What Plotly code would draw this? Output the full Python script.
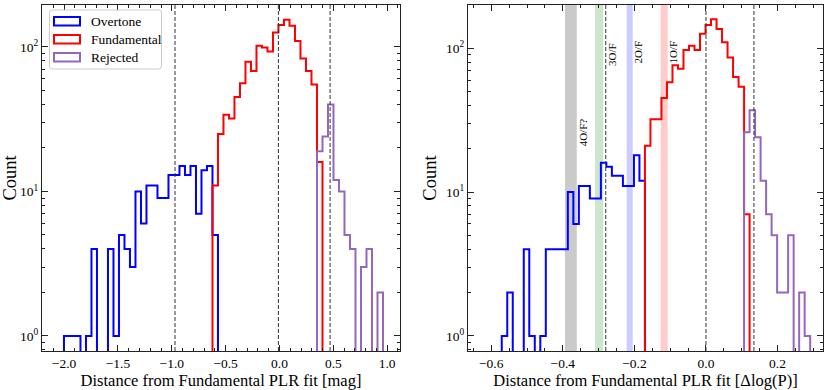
import plotly.graph_objects as go

# ---------------- data ----------------
# Left panel: histogram of distance in magnitude
LEFT_BIN_START = -2.001
LEFT_BIN_WIDTH = 0.05107
OVERTONE_L_FIRST_BIN = 0
OVERTONE_L = [1, 1, 1, 0, 1, 4, 0, 0, 4, 1, 5, 4, 3, 10, 6, 11, 11, 9, 9, 13, 13, 15, 13, 15, 7, 14, 15, 5]
FUND_L_FIRST_BIN = 27
FUND_L = [11, 25, 34, 32, 45, 56, 79, 68, 102, 99, 93, 126, 142, 154, 140, 110, 83, 68, 55, 16]
REJ_L_FIRST_BIN = 46
REJ_L = [19, 24, 40, 12, 10, 5, 4, 0, 3, 4, 0, 2]
LEFT_VLINES = [-0.97, -0.01, 0.47]

# Right panel: histogram of distance in log(P)
RIGHT_BIN_START = -0.5707
RIGHT_BIN_WIDTH = 0.01539
OVERTONE_R_FIRST_BIN = 0
OVERTONE_R = [1, 2, 0, 0, 4, 1, 0, 1, 4, 4, 4, 4, 10, 6, 11, 11, 9, 9, 16, 15, 13, 13, 11, 11, 18, 12]
FUND_R_FIRST_BIN = 26
FUND_R = [21, 32, 32, 45, 58, 76, 72, 97, 104, 97, 126, 145, 159, 136, 110, 86, 63, 54, 7]
REJ_R_FIRST_BIN = 44
REJ_R = [26, 37, 24, 12, 7, 5, 2, 2, 5, 0, 2, 1]
RIGHT_VLINES = [-0.28, 0.0, 0.134]

BAND_LO = [-0.394, -0.310, -0.2216, -0.1266]
BAND_HI = [-0.361, -0.287, -0.2048, -0.1070]
BAND_COLORS = ["rgba(128,128,128,0.42)", "rgba(0,128,0,0.2)", "rgba(0,0,255,0.2)", "rgba(255,0,0,0.2)"]
BAND_LABELS = ["4O/F?", "3O/F", "2O/F", "1O/F"]
BAND_LABEL_X = [-0.3436, -0.263, -0.189, -0.0913]
BAND_LABEL_LOGY = [1.415, 1.958, 1.972, 1.972]

SERIES_NAMES = ["Overtone", "Fundamental", "Rejected"]
SERIES_COLORS = ["#0000ff", "#ff0000", "#9467bd"]

X_TICKS_L = [-2.0, -1.5, -1.0, -0.5, 0.0, 0.5, 1.0]
X_TICKS_R = [-0.6, -0.4, -0.2, 0.0, 0.2]

FONT = "Liberation Serif"
W, H = 830, 390
FLOOR = 0.05


def fmt(v):
    s = f"{abs(v):.1f}"
    return ("\u2212" + s) if v < 0 else s


def step_xy(start, width, first, counts):
    n = len(counts)
    edges = [start + (first + i) * width for i in range(n + 1)]
    xs = [edges[0]] + edges[:n] + [edges[n]]
    ys = [FLOOR] + [c if c > 0 else FLOOR for c in counts] + [FLOOR]
    return xs, ys


def px(x):
    return x / W


def py(y):
    return 1 - y / H


fig = go.Figure()

left_sets = [(OVERTONE_L_FIRST_BIN, OVERTONE_L), (FUND_L_FIRST_BIN, FUND_L), (REJ_L_FIRST_BIN, REJ_L)]
right_sets = [(OVERTONE_R_FIRST_BIN, OVERTONE_R), (FUND_R_FIRST_BIN, FUND_R), (REJ_R_FIRST_BIN, REJ_R)]

for (first, counts), name, col in zip(left_sets, SERIES_NAMES, SERIES_COLORS):
    xs, ys = step_xy(LEFT_BIN_START, LEFT_BIN_WIDTH, first, counts)
    fig.add_trace(go.Scatter(x=xs, y=ys, mode="lines", line=dict(color=col, width=2, shape="hv"),
                             name=name, showlegend=False, xaxis="x", yaxis="y"))

for (first, counts), name, col in zip(right_sets, SERIES_NAMES, SERIES_COLORS):
    xs, ys = step_xy(RIGHT_BIN_START, RIGHT_BIN_WIDTH, first, counts)
    fig.add_trace(go.Scatter(x=xs, y=ys, mode="lines", line=dict(color=col, width=2, shape="hv"),
                             name=name, showlegend=False, xaxis="x2", yaxis="y2"))

shapes = []
for v in LEFT_VLINES:
    shapes.append(dict(type="line", xref="x", yref="y domain", x0=v, x1=v, y0=0, y1=1,
                       line=dict(color="#333", width=1, dash="4px,2px"), layer="above"))
for v in RIGHT_VLINES:
    shapes.append(dict(type="line", xref="x2", yref="y2 domain", x0=v, x1=v, y0=0, y1=1,
                       line=dict(color="#333", width=1, dash="4px,2px"), layer="above"))
for lo, hi, c in zip(BAND_LO, BAND_HI, BAND_COLORS):
    shapes.append(dict(type="rect", xref="x2", yref="y2 domain", x0=lo, x1=hi, y0=0, y1=1,
                       fillcolor=c, line=dict(width=0), layer="below"))

# legend (manual, to draw rectangle patches)
lx0, lx1, ly0, ly1, r = 49.5, 161.5, 10, 69, 3
path = (f"M {px(lx0 + r)},{py(ly0)} L {px(lx1 - r)},{py(ly0)} Q {px(lx1)},{py(ly0)} {px(lx1)},{py(ly0 + r)} "
        f"L {px(lx1)},{py(ly1 - r)} Q {px(lx1)},{py(ly1)} {px(lx1 - r)},{py(ly1)} "
        f"L {px(lx0 + r)},{py(ly1)} Q {px(lx0)},{py(ly1)} {px(lx0)},{py(ly1 - r)} "
        f"L {px(lx0)},{py(ly0 + r)} Q {px(lx0)},{py(ly0)} {px(lx0 + r)},{py(ly0)} Z")
shapes.append(dict(type="path", xref="paper", yref="paper", path=path,
                   fillcolor="rgba(255,255,255,0.85)", line=dict(color="#cccccc", width=1), layer="above"))
annotations = []
row_y = [21.3, 39.3, 57.3]
for name, col, ry in zip(SERIES_NAMES, SERIES_COLORS, row_y):
    shapes.append(dict(type="rect", xref="paper", yref="paper", x0=px(54), x1=px(80),
                       y0=py(ry - 4.3), y1=py(ry + 4.3), line=dict(color=col, width=2), layer="above"))
    annotations.append(dict(xref="paper", yref="paper", x=px(89), y=py(ry), text=name, showarrow=False,
                            xanchor="left", yanchor="middle", font=dict(family=FONT, size=13.5, color="black")))

for t, x, ly in zip(BAND_LABELS, BAND_LABEL_X, BAND_LABEL_LOGY):
    annotations.append(dict(xref="x2", yref="y2", x=x, y=ly, text=t, showarrow=False, textangle=-90,
                            xanchor="center", yanchor="middle", font=dict(family=FONT, size=11, color="black")))

axis_common = dict(showline=True, linecolor="#222", linewidth=1.2, mirror="allticks", ticks="inside",
                   ticklen=6, tickwidth=1, tickcolor="#222", showgrid=False, zeroline=False,
                   tickfont=dict(family=FONT, size=13.5, color="black"), automargin=False)

ydom = [1 - 351 / H, 1 - 5 / H]
ytickvals = [1, 10, 100]
ytext = ["10<sup>0</sup>", "10<sup>1</sup>", "10<sup>2</sup>"]
yminor = [0.8, 0.9] + list(range(2, 10)) + list(range(20, 100, 10)) + [200]

fig.update_layout(
    width=W, height=H, margin=dict(l=0, r=0, t=0, b=0),
    paper_bgcolor="white", plot_bgcolor="rgba(0,0,0,0)",
    font=dict(family=FONT, color="black"),
    showlegend=False,
    shapes=shapes, annotations=annotations,
    xaxis=dict(axis_common, domain=[42 / W, 400 / W], range=[-2.205, 1.119], anchor="y",
               tickmode="array", tickvals=X_TICKS_L, ticktext=[fmt(v) for v in X_TICKS_L],
               minor=dict(ticks="inside", ticklen=3, tickcolor="#222", dtick=0.1, tick0=0),
               title=dict(text="Distance from Fundamental PLR fit [mag]", font=dict(family=FONT, size=16.5), standoff=3)),
    xaxis2=dict(axis_common, domain=[468 / W, 823 / W], range=[-0.665, 0.327], anchor="y2",
                tickmode="array", tickvals=X_TICKS_R, ticktext=[fmt(v) for v in X_TICKS_R],
                minor=dict(ticks="inside", ticklen=3, tickcolor="#222", dtick=0.05, tick0=0),
                title=dict(text="Distance from Fundamental PLR fit [\u0394log(P)]", font=dict(family=FONT, size=16.5), standoff=3)),
    yaxis=dict(axis_common, type="log", domain=ydom, range=[-0.104, 2.29], anchor="x",
               tickmode="array", tickvals=ytickvals, ticktext=ytext,
               minor=dict(ticks="inside", ticklen=3, tickcolor="#222", tickmode="array", tickvals=yminor),
               title=dict(text="Count", font=dict(family=FONT, size=18.5), standoff=4)),
    yaxis2=dict(axis_common, type="log", domain=ydom, range=[-0.105, 2.30], anchor="x2",
                tickmode="array", tickvals=ytickvals, ticktext=ytext,
                minor=dict(ticks="inside", ticklen=3, tickcolor="#222", tickmode="array", tickvals=yminor),
                title=dict(text="Count", font=dict(family=FONT, size=18.5), standoff=4)),
)

fig.write_html("out.html", config={"displayModeBar": False},
               post_script="document.body.style.margin='0';document.body.style.overflow='hidden';")
